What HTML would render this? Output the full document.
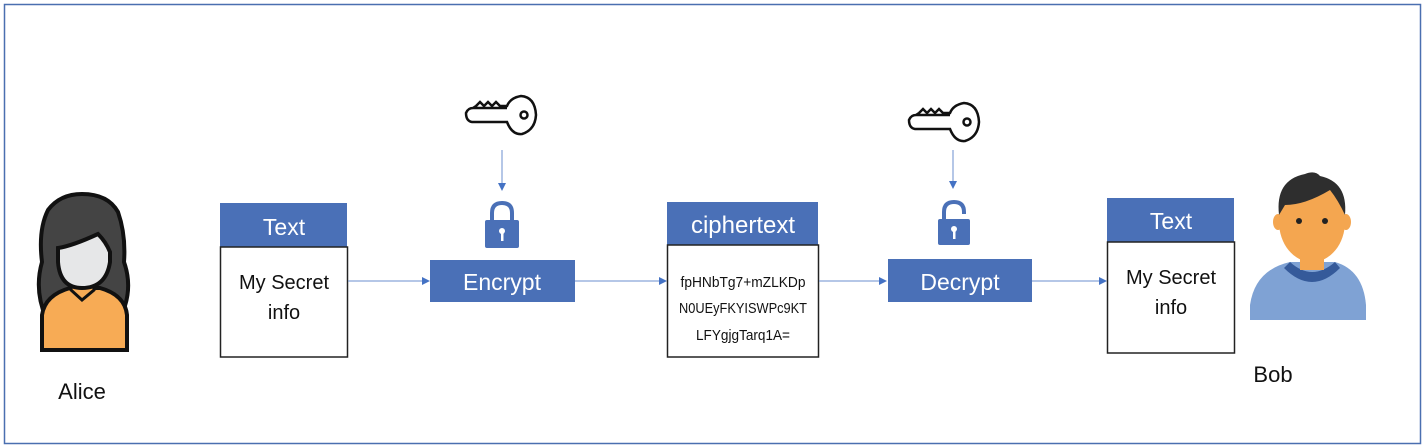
<!DOCTYPE html>
<html><head><style>
body{margin:0;background:#fff;}
svg{display:block;font-family:"Liberation Sans",sans-serif;}
</style></head><body>
<svg width="1425" height="448" viewBox="0 0 1425 448" xmlns="http://www.w3.org/2000/svg">
<defs><marker id="a" markerWidth="8" markerHeight="8" refX="7" refY="4" orient="auto" markerUnits="userSpaceOnUse"><path d="M0,0 L8,4 L0,8z" fill="#4472c4"/></marker></defs>
<rect x="4.5" y="4.5" width="1416" height="439" fill="#fff" stroke="#4a6fb0" stroke-width="1.5"/>
<!-- Alice -->
<g>
<path d="M46,318 Q34,290 42,262 Q38,230 48,210 Q60,194 82,194 Q108,194 118,212 Q126,235 124,262 Q134,290 120,318Z" fill="#444" stroke="#111" stroke-width="4"/>
<path d="M42,350 L42,315 Q45,295 70,288 L100,288 Q125,295 127,315 L127,350Z" fill="#f7ab55" stroke="#111" stroke-width="4"/>
<path d="M71,270 L71,290 L82,300 L94,290 L94,270Z" fill="#f7ab55" stroke="#111" stroke-width="3"/>
<path d="M58,248 Q72,246 98,234 Q106,242 110,252 L110,262 Q106,288 82,288 Q60,288 58,262Z" fill="#e6e7e8" stroke="#111" stroke-width="4"/>
</g>
<text x="82" y="399" font-size="22" text-anchor="middle" fill="#111">Alice</text>
<!-- Text box 1 -->
<rect x="220" y="203" width="127" height="44" fill="#4a70b7"/>
<rect x="220.5" y="247" width="127" height="110" fill="#fff" stroke="#222" stroke-width="1.5"/>
<text x="284" y="235" font-size="23" text-anchor="middle" fill="#fff">Text</text>
<text x="284" y="289" font-size="20" text-anchor="middle" fill="#111">My Secret</text>
<text x="284" y="319" font-size="20" text-anchor="middle" fill="#111">info</text>
<line x1="348" y1="281" x2="429" y2="281" stroke="#6b8fcf" stroke-width="1" marker-end="url(#a)"/>
<!-- Encrypt -->
<rect x="430" y="260" width="145" height="42" fill="#4a70b7"/>
<text x="502" y="290" font-size="23" text-anchor="middle" fill="#fff">Encrypt</text>
<line x1="575" y1="281" x2="666" y2="281" stroke="#6b8fcf" stroke-width="1" marker-end="url(#a)"/>
<!-- key1 -->
<g fill="none" stroke="#111" stroke-width="2.5">
<path d="M507,108 L473,108 Q468,108 466,113 Q466,121 472,122 L507,122 Q512,135 522,134 Q535,130 536,115 Q535,97 521,96 Q510,98 507,106 L500,106 L496,102 L492,106 L488,102 L484,106 L480,102 L476,106 L473,108"/>
<circle cx="524" cy="115" r="3.5"/>
</g>
<line x1="502" y1="150" x2="502" y2="190" stroke="#6b8fcf" stroke-width="1" marker-end="url(#a)"/>
<!-- lock1 -->
<path d="M492,222 L492,213 Q492,203 502,203 Q512,203 512,213 L512,222" fill="none" stroke="#4a70b7" stroke-width="4"/>
<rect x="485" y="220" width="34" height="28" rx="2" fill="#4a70b7"/>
<circle cx="502" cy="231" r="3" fill="#fff"/><rect x="501" y="232" width="2.5" height="9" fill="#fff"/>
<!-- ciphertext -->
<rect x="667" y="202" width="151" height="43" fill="#4a70b7"/>
<rect x="667.5" y="245" width="151" height="112" fill="#fff" stroke="#222" stroke-width="1.5"/>
<text x="743" y="233" font-size="24" text-anchor="middle" fill="#fff">ciphertext</text>
<text x="743" y="287" font-size="15" text-anchor="middle" fill="#111" textLength="125" lengthAdjust="spacingAndGlyphs">fpHNbTg7+mZLKDp</text>
<text x="743" y="313" font-size="15" text-anchor="middle" fill="#111" textLength="128" lengthAdjust="spacingAndGlyphs">N0UEyFKYISWPc9KT</text>
<text x="743" y="340" font-size="15" text-anchor="middle" fill="#111" textLength="94" lengthAdjust="spacingAndGlyphs">LFYgjgTarq1A=</text>
<line x1="819" y1="281" x2="886" y2="281" stroke="#6b8fcf" stroke-width="1" marker-end="url(#a)"/>
<!-- Decrypt -->
<rect x="888" y="259" width="144" height="43" fill="#4a70b7"/>
<text x="960" y="290" font-size="23" text-anchor="middle" fill="#fff">Decrypt</text>
<line x1="1032" y1="281" x2="1106" y2="281" stroke="#6b8fcf" stroke-width="1" marker-end="url(#a)"/>
<!-- key2 -->
<g fill="none" stroke="#111" stroke-width="2.5">
<path d="M950,115 L916,115 Q911,115 909,120 Q909,128 915,129 L950,129 Q955,142 965,141 Q978,137 979,122 Q978,104 964,103 Q953,105 950,113 L943,113 L939,109 L935,113 L931,109 L927,113 L923,109 L919,113 L916,115"/>
<circle cx="967" cy="122" r="3.5"/>
</g>
<line x1="953" y1="150" x2="953" y2="188" stroke="#6b8fcf" stroke-width="1" marker-end="url(#a)"/>
<!-- lock2 open -->
<path d="M944,221 L944,212 Q944,202 954,202 Q964,202 964,212 L964,214" fill="none" stroke="#4a70b7" stroke-width="4"/>
<rect x="938" y="219" width="32" height="26" rx="2" fill="#4a70b7"/>
<circle cx="954" cy="229" r="3" fill="#fff"/><rect x="953" y="230" width="2.5" height="9" fill="#fff"/>
<!-- Text box 2 -->
<rect x="1107" y="198" width="127" height="44" fill="#4a70b7"/>
<rect x="1107.5" y="242" width="127" height="111" fill="#fff" stroke="#222" stroke-width="1.5"/>
<text x="1171" y="229" font-size="23" text-anchor="middle" fill="#fff">Text</text>
<text x="1171" y="284" font-size="20" text-anchor="middle" fill="#111">My Secret</text>
<text x="1171" y="314" font-size="20" text-anchor="middle" fill="#111">info</text>
<!-- Bob -->
<g>
<path d="M1250,320 L1250,305 Q1255,270 1290,262 L1335,262 Q1363,270 1366,305 L1366,320Z" fill="#7fa2d4"/>
<path d="M1290,262 Q1312,282 1335,262 L1340,268 Q1312,296 1284,268Z" fill="#355a9a"/>
<rect x="1300" y="245" width="24" height="25" fill="#f4a650"/>
<ellipse cx="1312" cy="222" rx="33" ry="40" fill="#f4a650"/>
<ellipse cx="1278" cy="222" rx="5" ry="8" fill="#f4a650"/><ellipse cx="1346" cy="222" rx="5" ry="8" fill="#f4a650"/>
<path d="M1279,215 Q1275,180 1305,174 Q1315,170 1320,176 Q1348,182 1345,215 Q1338,200 1330,190 Q1305,205 1285,205 Z" fill="#2e2e2e"/>
<circle cx="1299" cy="221" r="3" fill="#222"/><circle cx="1325" cy="221" r="3" fill="#222"/>
</g>
<text x="1273" y="382" font-size="22" text-anchor="middle" fill="#111">Bob</text>
</svg>
</body></html>
